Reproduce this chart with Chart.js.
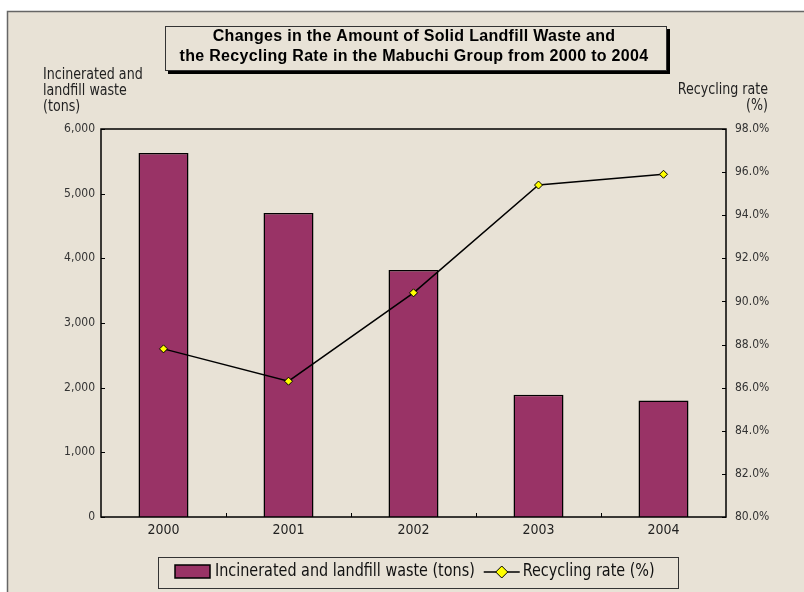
<!DOCTYPE html>
<html>
<head>
<meta charset="utf-8">
<script src="https://cdn.jsdelivr.net/npm/chart.js@4"></script>
<style>
  html, body { margin: 0; padding: 0; background: #fff; }
  #wrap { width: 804px; height: 592px; position: relative; }
</style>
</head>
<body>
<div id="wrap"><canvas id="my-chart" width="804" height="592"></canvas></div>
<script>
// data
const years = ['2000', '2001', '2002', '2003', '2004'];
const wasteTons = [5630, 4700, 3820, 1890, 1800];
const recyclingRate = [87.8, 86.3, 90.4, 95.4, 95.9];
const titleLines = ['Changes in the Amount of Solid Landfill Waste and',
                    'the Recycling Rate in the Mabuchi Group from 2000 to 2004'];
const leftTitle = ['Incinerated and', 'landfill waste', '(tons)'];
const rightTitle = ['Recycling rate', '(%)'];

const narrow = "'Liberation Sans Narrow', 'Arial Narrow', 'DejaVu Sans Condensed', sans-serif";
const bg = '#e8e2d6';

// squeeze text horizontally, the reference uses a narrow face
function narrowText(c, s, x, y, k, align) {
   const w = c.measureText(s).width * k;
   let x0 = x;
   if (align === 'right') x0 = x - w;
   else if (align === 'center') x0 = x - w / 2;
   c.save();
   c.textAlign = 'left';
   c.translate(x0, y);
   c.scale(k, 1);
   c.fillText(s, 0, 0);
   c.restore();
   return w;
}

// background frame, title box, axis titles, plot border, inner ticks, legend
const decor = {
   id: 'decor',
   beforeDraw(chart) {
      const c = chart.ctx;
      c.save();
      c.fillStyle = '#fff';
      c.fillRect(0, 0, chart.width, chart.height);
      c.fillStyle = bg;
      c.fillRect(7, 11, chart.width, chart.height);
      c.strokeStyle = '#666';
      c.lineWidth = 1.5;
      c.beginPath();
      c.moveTo(7.5, chart.height);
      c.lineTo(7.5, 11.5);
      c.lineTo(chart.width, 11.5);
      c.stroke();
      c.restore();
   },
   afterDraw(chart) {
      const c = chart.ctx;
      const a = chart.chartArea;
      c.save();

      // plot border
      c.strokeStyle = '#000';
      c.lineWidth = 1.5;
      c.strokeRect(a.left, a.top, a.right - a.left, a.bottom - a.top);

      // inward tick marks
      c.lineWidth = 1;
      const yl = chart.scales.y, yr = chart.scales.y2, x = chart.scales.x;
      yl.ticks.forEach((t, i) => {
         const py = Math.round(yl.getPixelForTick(i)) + 0.5;
         c.beginPath(); c.moveTo(a.left, py); c.lineTo(a.left + 4, py); c.stroke();
      });
      yr.ticks.forEach((t, i) => {
         const py = Math.round(yr.getPixelForTick(i)) + 0.5;
         c.beginPath(); c.moveTo(a.right, py); c.lineTo(a.right - 4, py); c.stroke();
      });
      for (let i = 0; i < years.length - 1; i++) {
         const px = Math.round((x.getPixelForTick(i) + x.getPixelForTick(i + 1)) / 2) + 0.5;
         c.beginPath(); c.moveTo(px, a.bottom); c.lineTo(px, a.bottom - 4); c.stroke();
      }

      // title box with shadow
      c.fillStyle = '#000';
      c.fillRect(168, 29, 502, 45);
      c.fillStyle = bg;
      c.fillRect(165, 26, 502, 45);
      c.strokeStyle = '#333';
      c.lineWidth = 1;
      c.strokeRect(165.5, 26.5, 501, 44);
      c.fillStyle = '#000';
      c.font = "bold 16px 'Liberation Sans', Arial, sans-serif";
      c.letterSpacing = '0.3px';
      c.textAlign = 'center';
      c.textBaseline = 'middle';
      c.fillText(titleLines[0], 414, 37);
      c.fillText(titleLines[1], 414, 57);
      c.letterSpacing = '0px';

      // axis titles
      c.font = '16px ' + narrow;
      c.fillStyle = '#222';
      leftTitle.forEach((s, i) => narrowText(c, s, 43, 75 + i * 16, 0.88, 'left'));
      rightTitle.forEach((s, i) => narrowText(c, s, 768, 90 + i * 16, 0.88, 'right'));

      // legend
      c.fillStyle = bg;
      c.fillRect(158, 557, 521, 32);
      c.strokeStyle = '#333';
      c.strokeRect(158.5, 557.5, 520, 31);
      const bars = chart.data.datasets[1], line = chart.data.datasets[0];
      c.fillStyle = bars.backgroundColor;
      c.fillRect(175, 565, 35, 13);
      c.strokeStyle = '#000';
      c.lineWidth = 1.5;
      c.strokeRect(175, 565, 35, 13);
      c.font = '17px ' + narrow;
      c.fillStyle = '#111';
      const w0 = narrowText(c, bars.label, 215, 572, 0.94, 'left');
      const lx = 215 + w0 + 9;
      c.beginPath(); c.moveTo(lx, 572); c.lineTo(lx + 36, 572); c.stroke();
      c.beginPath();
      c.moveTo(lx + 18, 566); c.lineTo(lx + 24, 572); c.lineTo(lx + 18, 578); c.lineTo(lx + 12, 572);
      c.closePath();
      c.fillStyle = line.pointBackgroundColor;
      c.fill();
      c.lineWidth = 1;
      c.stroke();
      c.fillStyle = '#111';
      narrowText(c, line.label, lx + 39, 572, 0.94, 'left');
      c.restore();
   }
};

const ctx = document.getElementById('my-chart').getContext('2d');
const chart = new Chart(ctx, {
   type: 'bar',
   data: {
      labels: years,
      datasets: [
         {
            type: 'line',
            label: 'Recycling rate (%)',
            data: recyclingRate,
            yAxisID: 'y2',
            borderColor: '#000',
            borderWidth: 1.5,
            pointStyle: 'rectRot',
            pointRadius: 4,
            pointBackgroundColor: '#ffff00',
            pointBorderColor: '#000',
            pointBorderWidth: 1,
            tension: 0,
            order: 0
         },
         {
            label: 'Incinerated and landfill waste (tons)',
            data: wasteTons,
            yAxisID: 'y',
            backgroundColor: '#993366',
            borderColor: '#000',
            borderWidth: 1.5,
            categoryPercentage: 1,
            barPercentage: 0.4,
            order: 1
         }
      ]
   },
   options: {
      responsive: false,
      animation: false,
      layout: { padding: { top: 129, left: 0, right: 0, bottom: 0 } },
      plugins: { legend: { display: false }, tooltip: { enabled: false } },
      scales: {
         x: {
            grid: { display: false, drawTicks: false },
            border: { display: false },
            ticks: { color: '#222', font: { family: narrow, size: 14 }, padding: 5 },
            afterFit: s => { s.height = 75; }
         },
         y: {
            position: 'left',
            min: 0, max: 6000,
            grid: { display: false, drawTicks: false },
            border: { display: false },
            ticks: {
               stepSize: 1000,
               color: '#333',
               font: { family: narrow, size: 12 },
               padding: 6,
               callback: v => v.toLocaleString('en-US')
            },
            afterFit: s => { s.width = 101; }
         },
         y2: {
            position: 'right',
            min: 80, max: 98,
            grid: { display: false, drawTicks: false },
            border: { display: false },
            ticks: {
               stepSize: 2,
               color: '#333',
               font: { family: narrow, size: 12 },
               padding: 9,
               callback: v => v.toFixed(1) + '%'
            },
            afterFit: s => { s.width = 78; }
         }
      }
   },
   plugins: [decor]
});
</script>
</body>
</html>
